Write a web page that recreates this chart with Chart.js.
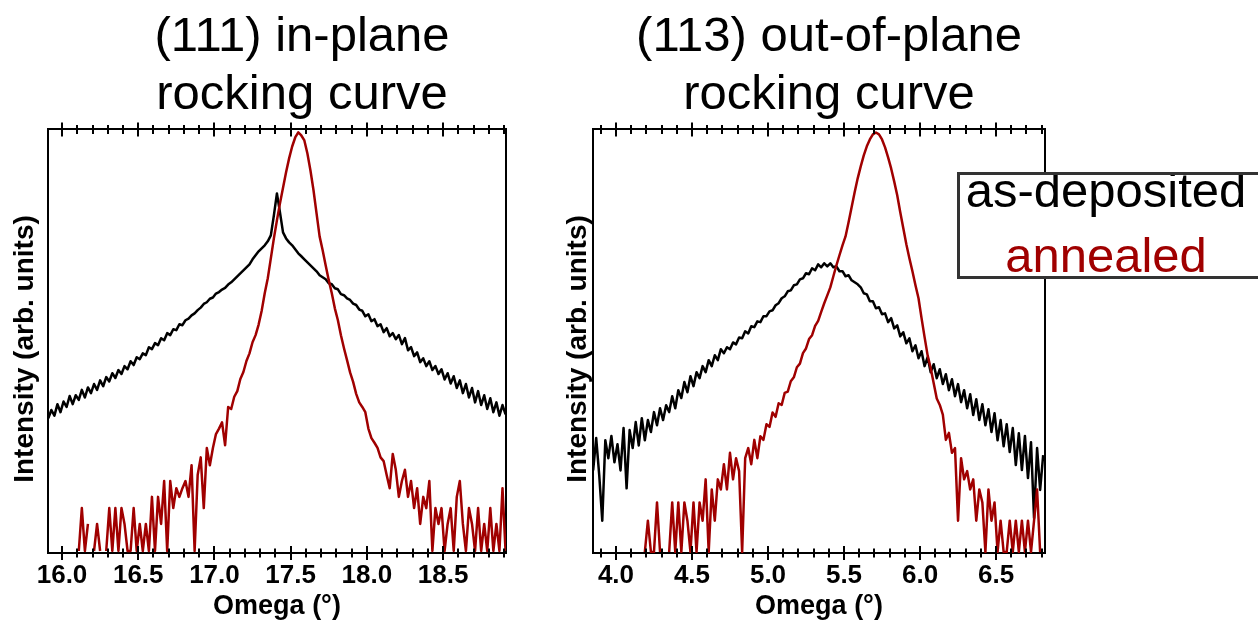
<!DOCTYPE html>
<html lang="en">
<head>
<meta charset="utf-8">
<title>Rocking curves</title>
<script src="https://cdn.jsdelivr.net/npm/chart.js@4.4.0/dist/chart.umd.min.js"></script>
<style>
    html, body { margin: 0; padding: 0; background: #fff; overflow: hidden; }
    body {
        width: 1258px; height: 625px; position: relative;
        font-family: 'Liberation Sans', Arial, Helvetica, sans-serif;
    }
    .panel { position: absolute; top: 0; }
    #panel-111 { left: 0; }
    #panel-113 { left: 554px; }
    /* the legend box runs off the right edge of the figure, so no right border */
    .legend-box {
        position: absolute; left: 957px; top: 172px;
        width: 292px; height: 101px; padding-right: 6px;
        border: 3px solid #333; border-right: none; background: #fff;
        text-align: center; font-size: 49px; line-height: 65px;
        white-space: nowrap; overflow: hidden;
    }
    .legend-box .lines { margin-top: -17px; }
    .legend-box .as-dep { color: #000; }
    .legend-box .annealed { color: #a00000; }
</style>
</head>
<body>
<div class="panel" id="panel-111"><canvas id="chart-111" width="604" height="625"></canvas></div>
<div class="panel" id="panel-113"><canvas id="chart-113" width="550" height="625"></canvas></div>
<div class="legend-box">
    <div class="lines">
        <div class="as-dep">as-deposited</div>
        <div class="annealed">annealed</div>
    </div>
</div>

<script>
/*
 * Two XRD rocking curves, as-deposited vs annealed, log intensity axis.
 */

const FONT = "'Liberation Sans', Arial, Helvetica, sans-serif";
const BLACK = '#000000';
const RED = '#a00000';

// ======================= DATA =======================

// scan grid (degrees): first omega of each scan, same step for all
const omegaStep = 0.02;
const omega111Start = 15.91;
const omega113Start = 3.85;

const tickLabels111 = ['16.0', '16.5', '17.0', '17.5', '18.0', '18.5'];
const tickLabels113 = ['4.0', '4.5', '5.0', '5.5', '6.0', '6.5'];

// counts per step (0 = nothing counted, left blank on the log axis)
const asDeposited111 = [
    30, 37, 32, 43, 35, 46, 40, 53, 43, 54,
    48, 62, 51, 66, 57, 72, 62, 79, 68, 86,
    77, 95, 84, 103, 93, 114, 105, 129, 117, 143,
    136, 158, 151, 185, 176, 205, 195, 233, 221, 265,
    252, 293, 286, 333, 325, 369, 385, 418, 440, 478,
    510, 560, 585, 640, 660, 730, 760, 810, 845, 920,
    975, 1053, 1137, 1227, 1325, 1431, 1545, 1755, 1945, 2154,
    2326, 2512, 2783, 3245, 5410, 9500, 5840, 3500, 3000, 2710,
    2512, 2270, 2050, 1900, 1755, 1625, 1506, 1394, 1291, 1166,
    1108, 1053, 950, 926, 836, 815, 720, 700, 645, 620,
    565, 545, 485, 470, 408, 430, 360, 379, 317, 333,
    272, 301, 245, 265, 227, 252, 200, 233, 171, 185,
    147, 162, 126, 139, 114, 129, 103, 114, 93, 105,
    81, 95, 73, 88, 65, 79, 57, 72, 51, 65,
    45, 60, 42, 54, 38, 50, 35, 45, 32, 42,
    33
];

const annealed111 = [
    0, 0, 0, 0, 0, 0, 0, 0, 0, 0,
    1, 3, 1, 2, 0, 1, 2, 1, 0, 1,
    3, 1, 3, 1, 3, 2, 1, 1, 3, 1,
    2, 1, 2, 1, 4, 1, 4, 2, 6, 1,
    6, 3, 5, 4, 5, 6, 4, 9, 1,
    7, 11, 3, 14, 9, 14, 20, 23, 27, 15, 40, 38, 52, 60, 82,
    98, 130, 158, 210, 252, 330, 470, 735, 1080, 1800,
    3000, 4760, 7360, 11000, 16300, 23300, 31600, 39800, 45300, 41900,
    36900, 26400, 17100, 10300, 5700, 3160, 2210, 1500, 1030, 735,
    500, 369, 251, 180, 133, 97,
    76, 56, 45, 40, 35, 23, 18, 16, 14, 11, 10, 7, 5, 12, 8, 4,
    6, 8, 4, 6, 3, 5, 2, 4, 3, 6, 1, 3, 2, 3, 1,
    2, 3, 1, 4, 6, 2, 1, 3, 2, 1, 3, 1, 2, 1, 3, 1, 2, 1, 5, 1
];

const asDeposited113 = [
    6.1, 12.5, 5.5, 2.0, 11.9, 8.0, 13.1, 7.3, 10.9, 6.1,
    15.6, 4.1, 14.9, 10.0, 17.8, 10.6, 19.4, 11.9, 18.6, 14.3,
    22.2, 16.6, 24.2, 18.6, 25.9, 22.2, 31.6, 24.2, 36.1, 30.3,
    43.2, 34.5, 49.2, 39.5, 53.8, 47.1, 61.5, 53.8, 70.2, 61.5,
    78.3, 70.2, 89.5, 81.9, 93.5, 89.5, 104, 99.7, 116, 114,
    133, 127, 149, 146, 166, 163, 186, 186, 207, 212,
    237, 248, 277, 289, 323, 330, 369, 377, 421, 431,
    482, 471, 538, 515, 587, 550, 601, 562, 601, 550,
    562, 504, 504, 451, 461, 412, 394, 377, 353, 309,
    302, 259, 259, 222, 227, 194, 198, 163, 178, 142,
    152, 119, 130, 102, 114, 85.6, 97.6, 73.3, 85.6, 61.5,
    74.9, 53.8, 64.2, 47.1, 57.5, 41.3, 51.4, 36.1, 46.0, 31.6,
    41.3, 27.7, 36.1, 24.2, 33.0, 20.8, 29.5, 18.6, 26.4, 16.6,
    23.7, 14.3, 21.7, 11.9, 18.6, 10.4, 17.0, 9.16, 15.6, 6.86,
    13.9, 6.14, 13.1, 5.15, 11.4, 2.12, 10.0, 3.95, 8.57
];

const annealed113 = [
    0, 0, 0, 0, 0, 0, 0, 0, 0, 0, 0, 0, 0, 0, 0, 0, 0,
    1, 2, 1, 1, 3, 1, 0, 0, 1, 3,
    1, 3, 1, 3, 2, 1, 3, 1, 3, 2,
    5, 1, 4, 2, 5, 4, 7, 4, 9, 5, 8, 6, 1, 8, 10, 7,
    12, 8, 13, 12, 17, 16, 22, 20, 27, 26, 34, 35, 44, 48, 60, 65, 82, 91, 112, 122,
    150, 168, 205, 248, 295, 352,
    451, 575, 718, 895, 1090, 1490, 2080, 2900, 3950, 5150, 6560, 8020, 9350, 10450, 10900,
    10450, 9350, 7840, 6280, 4920, 3690, 2710, 1860, 1305, 915, 671, 504, 369, 277, 178, 117, 78,
    59, 42, 30, 26, 21, 12, 14, 9, 10, 2, 8, 5, 6, 4, 5, 2,
    4, 3, 1, 4, 2, 3, 1, 2, 1, 1, 2, 1, 2, 1, 2, 1, 2, 1, 2, 4, 1, 0
];

// ======================= HELPERS =======================

function toPoints(counts, start) {
    return counts.map((c, i) => ({
        x: +(start + i * omegaStep).toFixed(3),
        y: c > 0 ? c : null
    }));
}

function isLabelled(value, labels) {
    return labels.includes(value.toFixed(1));
}

// tick marks crossing the top and bottom frame lines (longer on labelled values)
const frameTicks = {
    id: 'frameTicks',
    afterDraw(chart, args, opts) {
        const { ctx, chartArea } = chart;
        const scale = chart.scales.x;
        ctx.save();
        ctx.strokeStyle = BLACK;
        ctx.lineWidth = 2;
        ctx.beginPath();
        scale.ticks.forEach(tick => {
            const px = Math.round(scale.getPixelForValue(tick.value));
            const len = isLabelled(tick.value, opts.labels) ? 7 : 4.5;
            ctx.moveTo(px, chartArea.top - len);
            ctx.lineTo(px, chartArea.top + len);
            ctx.moveTo(px, chartArea.bottom - len);
            ctx.lineTo(px, chartArea.bottom + len);
        });
        ctx.stroke();
        ctx.restore();
    }
};

const frameBorder = { display: true, color: BLACK, width: 2 };
const noGrid = { drawOnChartArea: false, drawTicks: false };

function makePanel(canvasId, p) {
    const ctx = document.getElementById(canvasId).getContext('2d');
    return new Chart(ctx, {
        type: 'line',
        data: {
            datasets: [
                {
                    label: 'as-deposited',
                    data: toPoints(p.asDeposited, p.start),
                    borderColor: BLACK, borderWidth: 2.5, order: 1
                },
                {
                    label: 'annealed',
                    data: toPoints(p.annealed, p.start),
                    borderColor: RED, borderWidth: 2.5, order: 0
                }
            ]
        },
        options: {
            responsive: false,
            animation: false,
            spanGaps: false,
            layout: { padding: 0 },
            elements: {
                point: { radius: 0, hoverRadius: 0 },
                line: { tension: 0, borderJoinStyle: 'round', fill: false }
            },
            scales: {
                x: {
                    type: 'linear', position: 'bottom',
                    min: p.xMin, max: p.xMax,
                    ticks: {
                        stepSize: 0.1, includeBounds: false, autoSkip: false,
                        maxRotation: 0, minRotation: 0, padding: 7, color: BLACK,
                        font: { family: FONT, size: 26, weight: 'bold', lineHeight: 1.2 },
                        callback: v => isLabelled(v, p.labels) ? v.toFixed(1) : ''
                    },
                    grid: noGrid,
                    border: frameBorder,
                    title: {
                        display: true, text: 'Omega (°)', color: BLACK,
                        font: { family: FONT, size: 27, weight: 'bold', lineHeight: 1.2 },
                        padding: { top: 0, bottom: 2 }
                    },
                    afterFit: s => { s.height = 72; }
                },
                xTop: {
                    type: 'linear', position: 'top',
                    min: p.xMin, max: p.xMax,
                    ticks: { display: false },
                    grid: noGrid,
                    border: frameBorder,
                    afterFit: s => { s.height = 4.8; }
                },
                y: {
                    type: 'logarithmic', position: 'left',
                    min: p.yMin, max: p.yMax,
                    ticks: { display: false },
                    grid: noGrid,
                    border: frameBorder,
                    title: {
                        // two trailing spaces nudge the rotated label down, as in the original
                        display: true, text: 'Intensity (arb. units)  ', color: BLACK,
                        font: { family: FONT, size: 28, weight: 'bold', lineHeight: 1.2 },
                        padding: { top: p.yTitlePad, bottom: 0 }
                    },
                    afterFit: s => { s.width = p.leftWidth; }
                },
                y2: {
                    type: 'logarithmic', position: 'right',
                    min: p.yMin, max: p.yMax,
                    ticks: { display: false },
                    grid: noGrid,
                    border: frameBorder,
                    afterFit: s => { s.width = p.rightWidth; }
                }
            },
            plugins: {
                legend: { display: false },
                tooltip: { enabled: false },
                title: {
                    display: true, text: p.title, color: BLACK,
                    font: { family: FONT, size: 49, weight: 'normal', lineHeight: 1.18 },
                    padding: { top: 9, bottom: 0 }
                },
                frameTicks: { labels: p.labels }
            }
        },
        plugins: [frameTicks]
    });
}

// ======================= PANELS =======================

makePanel('chart-111', {
    title: ['(111) in-plane', 'rocking curve'],
    start: omega111Start,
    asDeposited: asDeposited111,
    annealed: annealed111,
    labels: tickLabels111,
    xMin: 15.908, xMax: 18.913,
    yMin: 0.95, yMax: 48900,
    leftWidth: 48, rightWidth: 98, yTitlePad: 8
});

makePanel('chart-113', {
    title: ['(113) out-of-plane', 'rocking curve'],
    start: omega113Start,
    asDeposited: asDeposited113,
    annealed: annealed113,
    labels: tickLabels113,
    xMin: 3.849, xMax: 6.822,
    yMin: 0.978, yMax: 11670,
    leftWidth: 39, rightWidth: 59, yTitlePad: 7
});
</script>
</body>
</html>
